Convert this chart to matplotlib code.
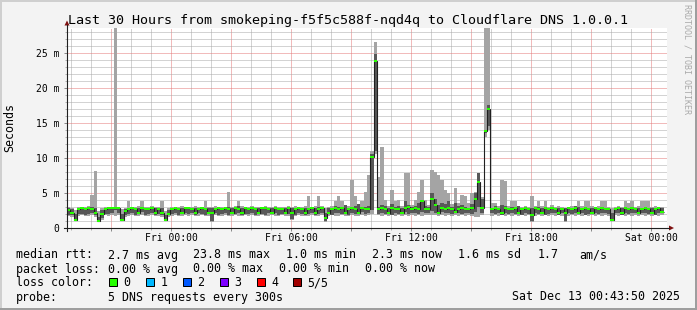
import matplotlib
matplotlib.use("Agg")
import matplotlib.pyplot as plt
import numpy as np
from matplotlib.patches import Rectangle, Polygon
from matplotlib.ticker import FixedLocator, MultipleLocator

MONO = 'DejaVu Sans Mono'

# time axis in hours relative to Fri 00:00, one sample per 10 minutes
T_START = -5.2
T_END = 24.8
STEP_H = 1 / 6
Y_MAX = 28.57   # ms

# sorted ping distribution per sample (ms): lowest, 2nd, median, 4th, highest
ping_lo = [
    1.7, 1.6, 1.0, 1.7, 1.8, 1.7, 1.7, 1.8, 1.6, 0.9, 1.2, 1.8, 1.7, 1.8, 1.7, 1.8, 1.0, 1.6,
    1.7, 1.8, 1.7, 1.7, 1.8, 1.7, 1.7, 1.8, 1.7, 1.7, 1.6, 1.0, 1.6, 1.7, 1.8, 1.7, 1.7, 1.8,
    1.7, 1.8, 1.7, 1.7, 1.8, 1.7, 1.7, 0.9, 1.8, 1.7, 1.7, 1.8, 1.7, 1.7, 1.8, 1.7, 1.7, 1.8,
    1.7, 1.8, 1.7, 1.7, 1.8, 1.7, 1.7, 1.8, 1.7, 1.7, 1.8, 1.7, 1.7, 1.2, 1.7, 1.8, 1.7, 1.7,
    1.7, 1.8, 1.7, 1.7, 1.8, 0.9, 1.7, 1.8, 1.7, 1.7, 1.8, 1.7, 1.7, 1.8, 1.7, 1.7, 1.8, 1.7,
    1.8, 2.0, 10.5, 1.8, 1.7, 1.8, 1.7, 1.8, 1.7, 1.8, 1.7, 1.8, 1.7, 1.8, 1.7, 1.8, 1.7, 1.8,
    1.8, 1.9, 1.8, 1.7, 1.8, 1.7, 1.8, 1.7, 1.8, 1.7, 1.8, 1.7, 1.8, 1.7, 1.6, 1.5, 1.8, 13.0,
    14.0, 1.7, 1.8, 1.7, 1.8, 1.7, 1.8, 1.7, 1.8, 1.7, 1.8, 1.7, 1.8, 0.9, 1.7, 1.8, 1.7, 1.8,
    1.7, 1.8, 1.7, 1.8, 1.7, 0.9, 1.7, 1.8, 1.7, 1.8, 1.7, 1.8, 1.7, 1.8, 1.7, 1.8, 1.7, 1.8,
    1.7, 1.0, 1.8, 1.7, 1.8, 1.7, 1.8, 1.7, 1.8, 1.7, 1.8, 1.7, 1.8, 1.7, 1.8, 1.7, 1.8,
]
ping_lo2 = [
    1.9, 1.8, 1.2, 2.0, 2.0, 1.9, 2.0, 2.1, 1.8, 1.0, 1.4, 2.0, 2.0, 2.1, 2.6, 2.2, 1.2, 1.9,
    2.0, 2.1, 1.9, 2.0, 2.3, 1.9, 2.0, 2.1, 1.9, 2.0, 1.8, 1.1, 1.8, 2.0, 2.1, 1.9, 2.0, 2.2,
    2.0, 2.1, 1.9, 2.2, 2.0, 1.9, 2.0, 1.0, 2.1, 1.9, 2.0, 2.1, 1.9, 2.2, 2.0, 2.1, 1.9, 2.0,
    2.0, 2.1, 1.9, 2.2, 2.0, 1.9, 2.1, 2.0, 2.2, 1.9, 2.0, 2.1, 2.0, 1.3, 1.9, 2.1, 2.0, 1.9,
    2.0, 2.1, 1.9, 2.0, 2.2, 1.0, 2.0, 1.9, 2.1, 2.2, 2.0, 2.1, 1.9, 2.2, 2.0, 2.1, 2.3, 2.0,
    2.1, 2.6, 11.0, 2.0, 2.2, 2.0, 2.1, 1.9, 2.2, 2.0, 2.1, 2.3, 2.0, 2.1, 2.2, 2.0, 2.3, 2.1,
    2.1, 2.4, 2.2, 2.0, 2.3, 2.1, 2.2, 2.0, 2.3, 2.1, 2.0, 2.2, 2.1, 2.0, 2.3, 3.0, 2.2, 13.5,
    14.5, 2.1, 2.0, 2.2, 1.9, 2.1, 2.0, 2.2, 2.0, 2.1, 1.9, 2.2, 2.0, 1.0, 2.1, 2.0, 2.2, 1.9,
    2.0, 2.2, 2.1, 1.9, 2.2, 1.0, 2.1, 2.0, 2.2, 2.0, 2.1, 1.9, 2.0, 2.2, 2.1, 2.0, 2.1, 2.2,
    2.0, 1.1, 2.2, 2.1, 1.9, 2.2, 2.0, 2.1, 2.2, 2.0, 2.1, 2.2, 2.0, 2.1, 1.9, 2.1, 2.2,
]
median_rtt = [
    2.6, 2.2, 1.1, 2.7, 2.8, 2.7, 2.8, 2.7, 2.2, 1.0, 2.0, 2.7, 2.8, 2.8, 2.8, 2.8, 1.1, 2.4,
    2.7, 2.8, 2.7, 2.2, 2.8, 2.7, 2.7, 2.8, 2.2, 2.7, 2.2, 1.1, 2.0, 2.7, 2.8, 2.7, 2.2, 2.8,
    2.8, 2.7, 2.2, 2.7, 2.8, 2.7, 2.2, 2.2, 2.7, 2.8, 2.7, 2.8, 2.7, 2.2, 2.8, 2.7, 2.2, 2.8,
    2.7, 2.8, 2.7, 2.2, 2.8, 2.8, 2.7, 2.2, 2.8, 2.7, 2.7, 2.2, 2.8, 2.2, 2.7, 2.8, 2.7, 2.2,
    2.7, 2.8, 2.2, 2.7, 2.8, 1.4, 2.2, 2.7, 2.8, 2.7, 2.8, 2.2, 2.7, 2.8, 2.7, 2.2, 2.8, 2.7,
    2.7, 10.2, 23.8, 2.7, 2.8, 2.7, 2.2, 2.8, 2.7, 2.7, 2.2, 2.8, 3.0, 2.7, 2.8, 2.7, 3.8, 2.7,
    2.7, 4.1, 3.3, 2.2, 2.8, 2.7, 2.8, 2.7, 2.3, 2.7, 2.8, 2.7, 2.7, 2.8, 4.1, 6.5, 2.8, 13.8,
    17.0, 2.7, 2.8, 2.7, 2.2, 2.8, 2.7, 2.7, 2.8, 2.2, 2.7, 2.8, 2.7, 1.9, 2.8, 2.7, 2.2, 2.8,
    2.7, 2.8, 2.7, 2.2, 2.7, 2.1, 2.8, 2.7, 2.8, 2.2, 2.7, 2.8, 2.7, 2.2, 2.8, 2.7, 2.8, 2.7,
    2.7, 1.1, 2.7, 2.8, 2.2, 2.8, 2.7, 2.8, 2.7, 2.2, 2.7, 2.8, 2.7, 2.2, 2.7, 2.8, 2.3,
]
ping_hi2 = [
    2.8, 2.7, 2.0, 2.8, 2.9, 2.8, 2.9, 3.0, 2.9, 1.6, 2.6, 2.8, 2.9, 2.9, 2.9, 2.9, 2.0, 2.7,
    2.8, 2.9, 2.8, 2.8, 2.9, 2.8, 2.8, 2.9, 2.8, 2.8, 2.8, 1.8, 2.6, 2.8, 2.9, 2.8, 2.8, 2.9,
    2.9, 2.8, 2.8, 2.9, 2.8, 2.8, 2.8, 2.8, 2.9, 2.8, 2.8, 2.9, 3.0, 2.8, 2.9, 3.1, 2.8, 2.9,
    2.8, 2.9, 2.8, 2.8, 2.9, 2.9, 2.8, 2.8, 2.9, 2.8, 2.8, 2.8, 2.9, 2.8, 2.8, 2.9, 2.8, 2.8,
    2.9, 2.8, 2.8, 3.0, 2.9, 2.2, 2.8, 2.9, 3.2, 3.0, 2.9, 3.3, 2.9, 3.0, 3.1, 3.4, 2.9, 3.0,
    3.2, 10.6, 24.8, 3.0, 3.3, 3.1, 2.9, 3.4, 3.0, 3.2, 2.9, 3.8, 3.3, 3.0, 3.1, 3.5, 4.0, 3.1,
    3.0, 5.0, 4.2, 3.3, 3.6, 3.4, 3.8, 3.0, 3.5, 3.2, 3.3, 3.0, 2.9, 3.4, 5.0, 7.9, 4.2, 14.0,
    17.5, 2.9, 3.1, 2.9, 3.3, 3.2, 2.9, 3.0, 2.9, 3.1, 2.8, 2.9, 2.9, 2.8, 2.9, 3.0, 2.8, 3.0,
    2.9, 3.0, 2.8, 2.9, 2.8, 2.8, 2.9, 2.8, 3.1, 3.0, 2.9, 3.0, 2.9, 2.8, 2.9, 2.8, 3.0, 2.9,
    2.8, 2.2, 2.9, 2.8, 2.9, 3.0, 2.9, 3.0, 2.9, 2.8, 2.9, 3.0, 2.9, 2.8, 2.9, 2.8, 2.9,
]
ping_hi = [
    3.0, 2.9, 2.6, 3.0, 3.0, 3.0, 3.1, 4.7, 8.2, 2.4, 2.9, 3.0, 3.0, 3.0, 30.0, 3.0, 2.7, 2.9,
    3.8, 3.0, 3.0, 3.1, 3.8, 3.0, 3.0, 3.1, 3.0, 3.0, 3.8, 2.4, 2.9, 3.0, 3.0, 3.0, 3.1, 3.0,
    3.0, 3.0, 3.1, 3.0, 3.0, 3.8, 3.0, 3.0, 3.1, 3.0, 3.0, 3.0, 5.2, 3.0, 3.1, 3.8, 3.2, 3.0,
    3.0, 3.1, 3.0, 3.0, 3.0, 3.1, 3.0, 3.0, 3.1, 3.0, 3.0, 3.0, 3.1, 3.0, 3.2, 3.0, 3.0, 3.1,
    4.5, 3.0, 3.1, 4.5, 3.1, 2.9, 3.0, 3.1, 3.8, 4.5, 3.8, 3.2, 3.2, 6.8, 4.5, 3.2, 3.8, 5.2,
    7.6, 11.0, 26.5, 7.3, 11.5, 4.0, 3.2, 5.4, 3.8, 4.0, 3.2, 7.8, 7.8, 3.3, 4.0, 5.2, 6.9, 4.0,
    3.3, 8.3, 8.0, 7.6, 6.9, 5.4, 5.0, 3.4, 5.7, 3.5, 4.7, 4.5, 3.6, 5.0, 5.2, 7.9, 4.4, 30.0,
    30.0, 3.6, 3.6, 3.1, 6.9, 6.7, 3.2, 3.8, 3.8, 3.2, 3.0, 3.1, 3.0, 4.5, 3.1, 3.8, 3.2, 3.8,
    3.0, 3.3, 3.0, 3.1, 3.0, 2.9, 3.0, 3.1, 3.0, 3.8, 3.1, 3.8, 3.8, 3.1, 3.0, 3.1, 3.8, 3.8,
    3.0, 2.8, 3.0, 3.1, 3.0, 3.8, 3.6, 3.8, 3.0, 3.1, 3.8, 3.8, 3.8, 3.0, 3.1, 3.0, 3.0,
]

ytick_ms = [0, 5, 10, 15, 20, 25]
ytick_labels = ['0', '5 m', '10 m', '15 m', '20 m', '25 m']
xtick_hours = [-3, 0, 3, 6, 9, 12, 15, 18, 21, 24]
xtick_labels = ['', 'Fri 00:00', '', 'Fri 06:00', '', 'Fri 12:00', '', 'Fri 18:00', '', 'Sat 00:00']

title = 'Last 30 Hours from smokeping-f5f5c588f-nqd4q to Cloudflare DNS 1.0.0.1'
rtt_stats = ['2.7 ms avg', '23.8 ms max', '1.0 ms min', '2.3 ms now', '1.6 ms sd', '1.7', 'am/s']
loss_stats = ['0.00 % avg', '0.00 % max', '0.00 % min', '0.00 % now']
loss_labels = ['0', '1', '2', '3', '4', '5/5']
loss_colors = ['#26ff00', '#00b8ff', '#0059ff', '#7e00ff', '#ff0000', '#a10000']
probe_text = '5 DNS requests every 300s'
stamp = 'Sat Dec 13 00:43:50 2025'

# --- figure in pixel terms (697 x 310) ---
W, H = 697, 310
fig = plt.figure(figsize=(W / 100, H / 100), dpi=100, facecolor='#f3f3f3')
ax = fig.add_axes([67 / W, (H - 228) / H, 600 / W, 200 / H])
ax.set_facecolor('white')
for s in ax.spines.values():
    s.set_visible(False)

lo = np.array(ping_lo)
lo2 = np.array(ping_lo2)
med = np.array(median_rtt)
hi2 = np.array(ping_hi2)
hi = np.array(ping_hi)
edges = T_START + STEP_H * np.arange(len(med) + 1)

# smoke (outer + inner band), median line, loss-coloured median marker
ax.stairs(hi, edges, baseline=lo, fill=True, color='#a4a4a4', lw=0, zorder=1)
ax.stairs(hi2, edges, baseline=lo2, fill=True, color='#585858', lw=0, zorder=2)
ax.stairs(med, edges, baseline=None, color='#202020', lw=0.8, zorder=3)
sw = Y_MAX / 200
ax.stairs(med + sw, edges, baseline=med - sw, fill=True, color=loss_colors[0], lw=0, zorder=4)

ax.set_xlim(T_START, T_END)
ax.set_ylim(0, Y_MAX)
ax.xaxis.set_major_locator(FixedLocator(xtick_hours))
ax.set_xticklabels(xtick_labels)
ax.xaxis.set_minor_locator(MultipleLocator(1))
ax.yaxis.set_major_locator(FixedLocator(ytick_ms))
ax.set_yticklabels(ytick_labels)
ax.yaxis.set_minor_locator(MultipleLocator(1))
ax.set_axisbelow(True)
ax.grid(which='minor', color='#a8a8a8', linestyle=(0, (1, 1)), lw=0.72)
ax.grid(which='major', color='#e47878', linestyle=(0, (1, 1)), lw=0.72)
ax.tick_params(which='major', length=2.2, width=0.72, color='#8a8a8a', labelsize=7, pad=1.2)
ax.tick_params(which='minor', length=1.5, width=0.72, color='#b0b0b0')
ax.tick_params(axis='y', which='major', pad=3.2)
for lab in ax.get_xticklabels() + ax.get_yticklabels():
    lab.set_family(MONO)

# --- overlay in pixel coordinates: frame, axes arrows, texts, legend ---
ov = fig.add_axes([0, 0, 1, 1])
ov.set_xlim(0, W)
ov.set_ylim(H, 0)
ov.axis('off')

ov.add_patch(Rectangle((0, 0), W, 2, color='#cfcfcf', lw=0))
ov.add_patch(Rectangle((0, 0), 2, H, color='#cfcfcf', lw=0))
ov.add_patch(Rectangle((0, H - 2), W, 2, color='#9e9e9e', lw=0))
ov.add_patch(Rectangle((W - 2, 0), 2, H, color='#9e9e9e', lw=0))

ov.plot([67, 67], [231, 25], color='#202020', lw=0.8)
ov.plot([64, 669], [228, 228], color='#202020', lw=0.8)
ov.add_patch(Polygon([[64.5, 25.5], [69.5, 25.5], [67, 20.5]], closed=True, color='#7f1010', lw=0))
ov.add_patch(Polygon([[669, 225.5], [669, 230.5], [674, 228]], closed=True, color='#7f1010', lw=0))

ov.text(W / 2, 24, title, ha='center', va='baseline', fontsize=9.6, family=MONO)
ov.text(10, 128, 'Seconds', rotation=90, ha='center', va='center', fontsize=8.4, family=MONO)
ov.text(687, 4, 'RRDTOOL / TOBI OETIKER', rotation=270, ha='center', va='top',
        fontsize=6.0, family=MONO, color='#aaaaaa')

LEG = dict(fontsize=8.4, family=MONO, va='baseline', ha='left')
row_y = [258.5, 272.5, 286.5, 300.5]
ov.text(16, row_y[0], 'median rtt:', **LEG)
for x, s in zip([107.5, 193, 286, 372, 458.5, 537.5, 579], rtt_stats):
    ov.text(x, row_y[0], s, **LEG)
ov.text(16, row_y[1], 'packet loss:', **LEG)
for x, s in zip([107.5, 193, 279, 365], loss_stats):
    ov.text(x, row_y[1], s, **LEG)
ov.text(16, row_y[2], 'loss color:', **LEG)
for x, s, c in zip([109, 146, 183, 220, 257, 293], loss_labels, loss_colors):
    ov.add_patch(Rectangle((x, 278), 8, 8, facecolor=c, edgecolor='black', lw=0.72))
    ov.text(x + 14.5, row_y[2], s, **LEG)
ov.text(16, row_y[3], 'probe:', **LEG)
ov.text(107.5, row_y[3], probe_text, **LEG)
ov.text(680, row_y[3], stamp, fontsize=8.4, family=MONO, va='baseline', ha='right')

fig.savefig('out.png', dpi=100, facecolor=fig.get_facecolor())
